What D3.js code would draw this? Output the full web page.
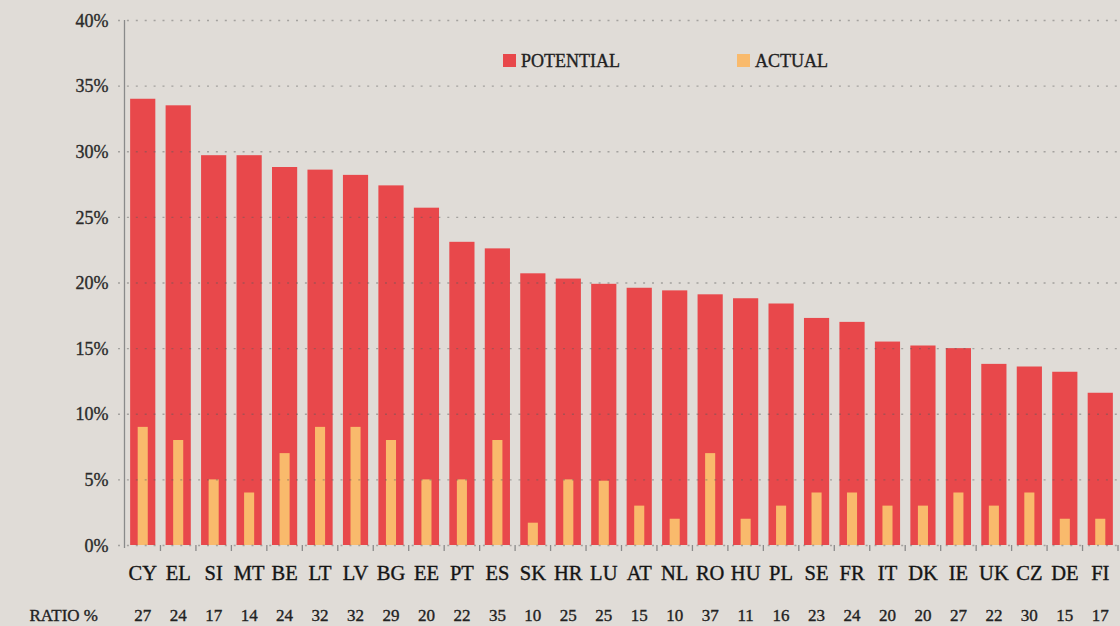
<!DOCTYPE html>
<html>
<head>
<meta charset="utf-8">
<script src="https://cdn.jsdelivr.net/npm/d3@7"></script>
<style>
  html, body { margin: 0; padding: 0; background: #e0dcd7; }
  svg { display: block; }
  svg text { font-family: 'Liberation Serif', 'Times New Roman', serif; }
</style>
</head>
<body>
<svg id="chart" width="1120" height="626"></svg>
<script>
const categories = ["CY","EL","SI","MT","BE","LT","LV","BG","EE","PT","ES","SK","HR","LU","AT","NL","RO","HU","PL","SE","FR","IT","DK","IE","UK","CZ","DE","FI"];
const potential = [34.0,33.5,29.7,29.7,28.8,28.6,28.2,27.4,25.7,23.1,22.6,20.7,20.3,19.9,19.6,19.4,19.1,18.8,18.4,17.3,17.0,15.5,15.2,15.0,13.8,13.6,13.2,11.6];
const actual = [9,8,5,4,7,9,9,8,5,5,8,1.7,5,4.9,3,2,7,2,3,4,4,3,3,4,3,4,2,2];
const ratio = [27,24,17,14,24,32,32,29,20,22,35,10,25,25,15,10,37,11,16,23,24,20,20,27,22,30,15,17];
const yTicks = [0,5,10,15,20,25,30,35,40];
const seriesNames = ["POTENTIAL","ACTUAL"];
const colors = ["#e8484b","#f9ba6c"];
const FONT = "'Liberation Serif', 'Times New Roman', serif";

const svg = d3.select("#chart");
const x = d3.scaleBand().domain(categories).range([125, 1118]).paddingInner(0.29).paddingOuter(0.145);
const y = d3.scaleLinear().domain([0, 40]).range([545, 20]);

function styleText(sel, size, color) {
  sel.attr("font-family", FONT)
     .attr("font-size", size)
     .attr("fill", color)
     .attr("stroke", color)
     .attr("stroke-width", 0.35);
}

// Bars: potential
svg.append("g").selectAll("rect").data(categories).join("rect")
  .attr("x", d => x(d))
  .attr("width", x.bandwidth())
  .attr("y", (d, i) => y(potential[i]))
  .attr("height", (d, i) => y(0) - y(potential[i]))
  .attr("fill", colors[0]);

// Bars: actual
const aw = x.bandwidth() * 0.4;
svg.append("g").selectAll("rect").data(categories).join("rect")
  .attr("x", d => x(d) + (x.bandwidth() - aw) / 2)
  .attr("width", aw)
  .attr("y", (d, i) => y(actual[i]))
  .attr("height", (d, i) => y(0) - y(actual[i]))
  .attr("fill", colors[1]);

// Gridlines (on top, semi-transparent dotted)
svg.append("g").selectAll("line").data(yTicks).join("line")
  .attr("x1", 118).attr("x2", 1120)
  .attr("y1", d => y(d) + 0.5).attr("y2", d => y(d) + 0.5)
  .attr("stroke", "rgba(90,90,90,0.45)")
  .attr("stroke-width", 1.3)
  .attr("stroke-dasharray", "2,6.9");

// Y axis
const yAxis = d3.axisLeft(y).tickValues(yTicks).tickSize(0).tickPadding(0).tickFormat(d => d + "%");
const gy = svg.append("g").attr("transform", "translate(124.5,0)").call(yAxis);
gy.attr("font-family", null).attr("font-size", null);
gy.select(".domain").remove();
gy.selectAll("text").attr("x", -16).attr("dy", "0.34em").call(styleText, "18px", "#2b2b2b");
svg.append("line")
  .attr("x1", 124.5).attr("x2", 124.5)
  .attr("y1", 20).attr("y2", 548)
  .attr("stroke", "#8a8a8a").attr("stroke-width", 1.3);

// X axis tick marks at band boundaries
const step = x.step();
const bounds = d3.range(categories.length + 1).map(i => x.range()[0] + i * step);
svg.append("g").selectAll("line").data(bounds.slice(1)).join("line")
  .attr("x1", d => d).attr("x2", d => d)
  .attr("y1", 545).attr("y2", 551)
  .attr("stroke", "#8a8a8a").attr("stroke-width", 1.3);

// X category labels via axis
const xAxis = d3.axisBottom(x).tickSize(0).tickPadding(0);
const gx = svg.append("g").attr("transform", "translate(0,580)").call(xAxis);
gx.attr("font-family", null).attr("font-size", null);
gx.select(".domain").remove();
gx.selectAll("text").attr("y", 0).attr("dy", 0).call(styleText, "20.5px", "#151515");

// Ratio row
svg.append("text").attr("x", 98).attr("y", 621).attr("text-anchor", "end")
  .call(styleText, "17px", "#222").text("RATIO %");
svg.append("g").selectAll("text").data(categories).join("text")
  .attr("x", d => x(d) + x.bandwidth() / 2)
  .attr("y", 621)
  .attr("text-anchor", "middle")
  .call(styleText, "17px", "#222")
  .text((d, i) => ratio[i]);

// Legend
const legendX = [503, 737];
const lg = svg.append("g").selectAll("g").data(seriesNames).join("g")
  .attr("transform", (d, i) => `translate(${legendX[i]},54)`);
lg.append("rect").attr("width", 13).attr("height", 13).attr("fill", (d, i) => colors[i]);
lg.append("text").attr("x", 18).attr("y", 13).call(styleText, "18px", "#222").text(d => d);
</script>
</body>
</html>
